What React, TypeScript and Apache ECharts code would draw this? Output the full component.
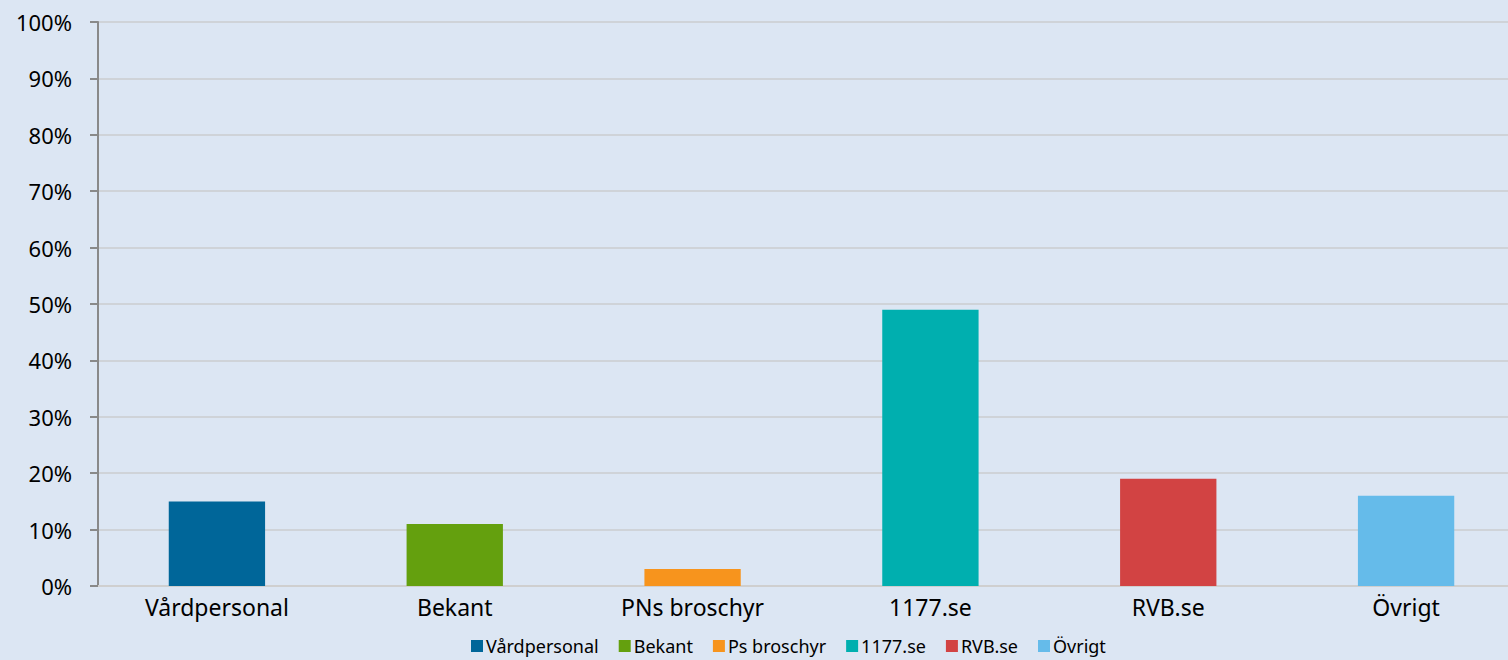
import React, { useEffect, useRef } from "react";
import * as echarts from "echarts";

const categories = ["Vårdpersonal", "Bekant", "PNs broschyr", "1177.se", "RVB.se", "Övrigt"];
const legendNames = ["Vårdpersonal", "Bekant", "Ps broschyr", "1177.se", "RVB.se", "Övrigt"];
const values = [15, 11, 3, 49, 19, 16];
const colors = ["#006699", "#64a00e", "#f7941d", "#00afaf", "#d24343", "#65bbea"];
const yTicks = [0, 10, 20, 30, 40, 50, 60, 70, 80, 90, 100];

export default function App() {
  const ref = useRef<HTMLDivElement>(null);
  useEffect(() => {
    if (!ref.current) return;
    const chart = echarts.init(ref.current, null, { renderer: "svg" });
    const font = "'Noto Sans', 'Open Sans', sans-serif";
    const series = legendNames.map((name, i) => ({
      name,
      type: "bar",
      stack: "all",
      barWidth: "40.5%",
      itemStyle: { color: colors[i] },
      data: values.map((v, j) => (j === i ? v : null)),
    }));
    chart.setOption({
      animation: false,
      backgroundColor: "#dce6f3",
      textStyle: { fontFamily: font },
      grid: { left: 98, right: 0, top: 22, bottom: 74, containLabel: false },
      legend: {
        bottom: 0,
        left: 466,
        itemWidth: 12,
        itemHeight: 12,
        itemGap: 20,
        icon: "rect",
        textStyle: { fontSize: 18, color: "#000", fontFamily: font, padding: [0, 0, 0, -2] },
        data: legendNames,
      },
      xAxis: {
        type: "category",
        data: categories,
        axisLine: { show: true, lineStyle: { color: "#cfcfcf", width: 2 } },
        axisTick: { show: false },
        axisLabel: { color: "#000", fontSize: 23, margin: 9, fontFamily: font },
      },
      yAxis: {
        type: "value",
        min: 0,
        max: yTicks[yTicks.length - 1],
        interval: 10,
        axisLine: { show: true, lineStyle: { color: "#898989", width: 2 } },
        axisTick: { show: true, inside: false, length: 8, lineStyle: { color: "#898989", width: 2 } },
        axisLabel: { color: "#000", fontSize: 22, margin: 26, formatter: "{value}%", fontFamily: font },
        splitLine: { show: true, lineStyle: { color: "#cfd3d8", width: 2 } },
      },
      series,
    });
    return () => chart.dispose();
  }, []);
  return (
    <div
      style={{
        position: "absolute",
        left: 0,
        top: 0,
        width: 1508,
        height: 660,
        overflow: "hidden",
        background: "#dce6f3",
      }}
    >
      <div ref={ref} style={{ width: 1525, height: 660 }} />
    </div>
  );
}
